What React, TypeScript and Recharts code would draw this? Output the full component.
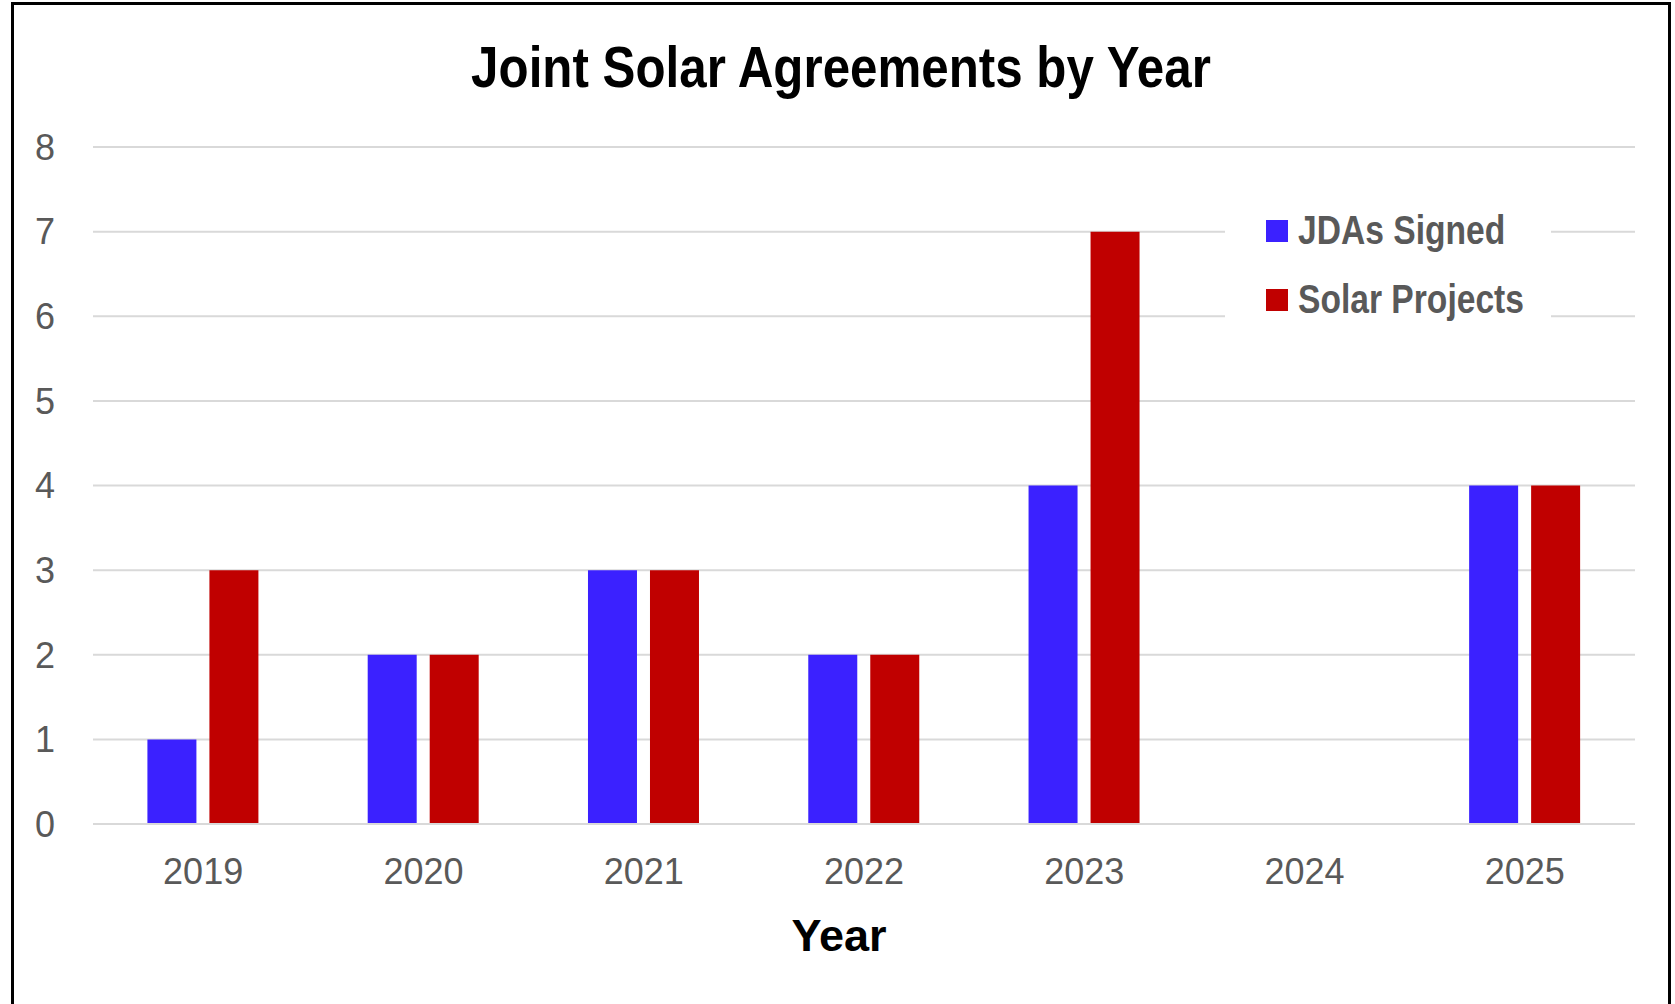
import React from "react";
import { BarChart, Bar, XAxis, YAxis, CartesianGrid, Legend } from "recharts";

const years = ["2019", "2020", "2021", "2022", "2023", "2024", "2025"];
const jdasSigned = [1, 2, 3, 2, 4, 0, 4];
const solarProjects = [3, 2, 3, 2, 7, 0, 4];
const yTicks = [0, 1, 2, 3, 4, 5, 6, 7, 8];

const seriesNames = { jdas: "JDAs Signed", solar: "Solar Projects" };
const colors = { jdas: "#3B21FF", solar: "#C00000" };

const data = years.map((year, i) => ({
  year,
  jdas: jdasSigned[i],
  solar: solarProjects[i],
}));

const W = 1675;
const H = 1004;
const sans = '"Liberation Sans", Arial, sans-serif';

const LegendBox = () => (
  <div
    style={{
      background: "#fff",
      width: 326,
      height: 160,
      boxSizing: "border-box",
      paddingLeft: 41,
      paddingTop: 11,
    }}
  >
    {(["jdas", "solar"] as const).map((key) => (
      <div
        key={key}
        style={{
          display: "flex",
          alignItems: "center",
          height: 69,
          whiteSpace: "nowrap",
          fontFamily: sans,
          fontWeight: 700,
          fontSize: 40,
          color: "#595959",
        }}
      >
        <span
          style={{
            display: "inline-block",
            flex: "0 0 auto",
            width: 22,
            height: 22,
            background: colors[key],
            marginRight: 10,
          }}
        />
        <span style={{ display: "inline-block", transform: "scaleX(0.84)", transformOrigin: "left center" }}>
          {seriesNames[key]}
        </span>
      </div>
    ))}
  </div>
);

export default function App() {
  return (
    <div style={{ position: "absolute", left: 0, top: 0, width: W, height: H, background: "#fff", overflow: "hidden" }}>
      <div
        style={{
          position: "absolute",
          left: 11,
          top: 2,
          width: 1660,
          height: 1020,
          border: "3px solid #000",
          boxSizing: "border-box",
        }}
      />
      <div
        style={{
          position: "absolute",
          left: 0,
          width: 1682,
          top: 38,
          textAlign: "center",
          fontFamily: sans,
          fontWeight: 700,
          fontSize: 58,
          lineHeight: "58px",
          color: "#000",
          transform: "scaleX(0.85)",
          transformOrigin: "841px 0",
          whiteSpace: "nowrap",
        }}
      >
        Joint Solar Agreements by Year
      </div>
      <div style={{ position: "absolute", left: 0, top: 0 }}>
        <BarChart
          width={W}
          height={H}
          data={data}
          margin={{ top: 147, right: 40, bottom: 100, left: 33 }}
          barCategoryGap="24.7%"
          barGap={13}
        >
          <CartesianGrid vertical={false} stroke="#D9D9D9" strokeWidth={2} />
          <XAxis
            dataKey="year"
            axisLine={{ stroke: "#D9D9D9", strokeWidth: 2 }}
            tickLine={false}
            tickSize={0}
            tickMargin={34}
            height={80}
            tick={{ fill: "#595959", fontSize: 36, fontFamily: sans }}
          />
          <YAxis
            domain={[0, 8]}
            ticks={yTicks}
            axisLine={false}
            tickLine={false}
            tickSize={0}
            tickMargin={38}
            width={60}
            tick={{ fill: "#595959", fontSize: 36, fontFamily: sans }}
          />
          <Legend
            layout="horizontal"
            align="center"
            verticalAlign="middle"
            content={() => <LegendBox />}
            wrapperStyle={{ position: "absolute", left: 1225, top: 185, width: 326, height: 160 }}
          />
          <Bar dataKey="jdas" name={seriesNames.jdas} fill={colors.jdas} isAnimationActive={false} />
          <Bar dataKey="solar" name={seriesNames.solar} fill={colors.solar} isAnimationActive={false} />
        </BarChart>
      </div>
      <div
        style={{
          position: "absolute",
          left: 0,
          width: 1678,
          top: 913,
          textAlign: "center",
          fontFamily: sans,
          fontWeight: 700,
          fontSize: 45,
          lineHeight: "45px",
          color: "#000",
        }}
      >
        Year
      </div>
    </div>
  );
}
